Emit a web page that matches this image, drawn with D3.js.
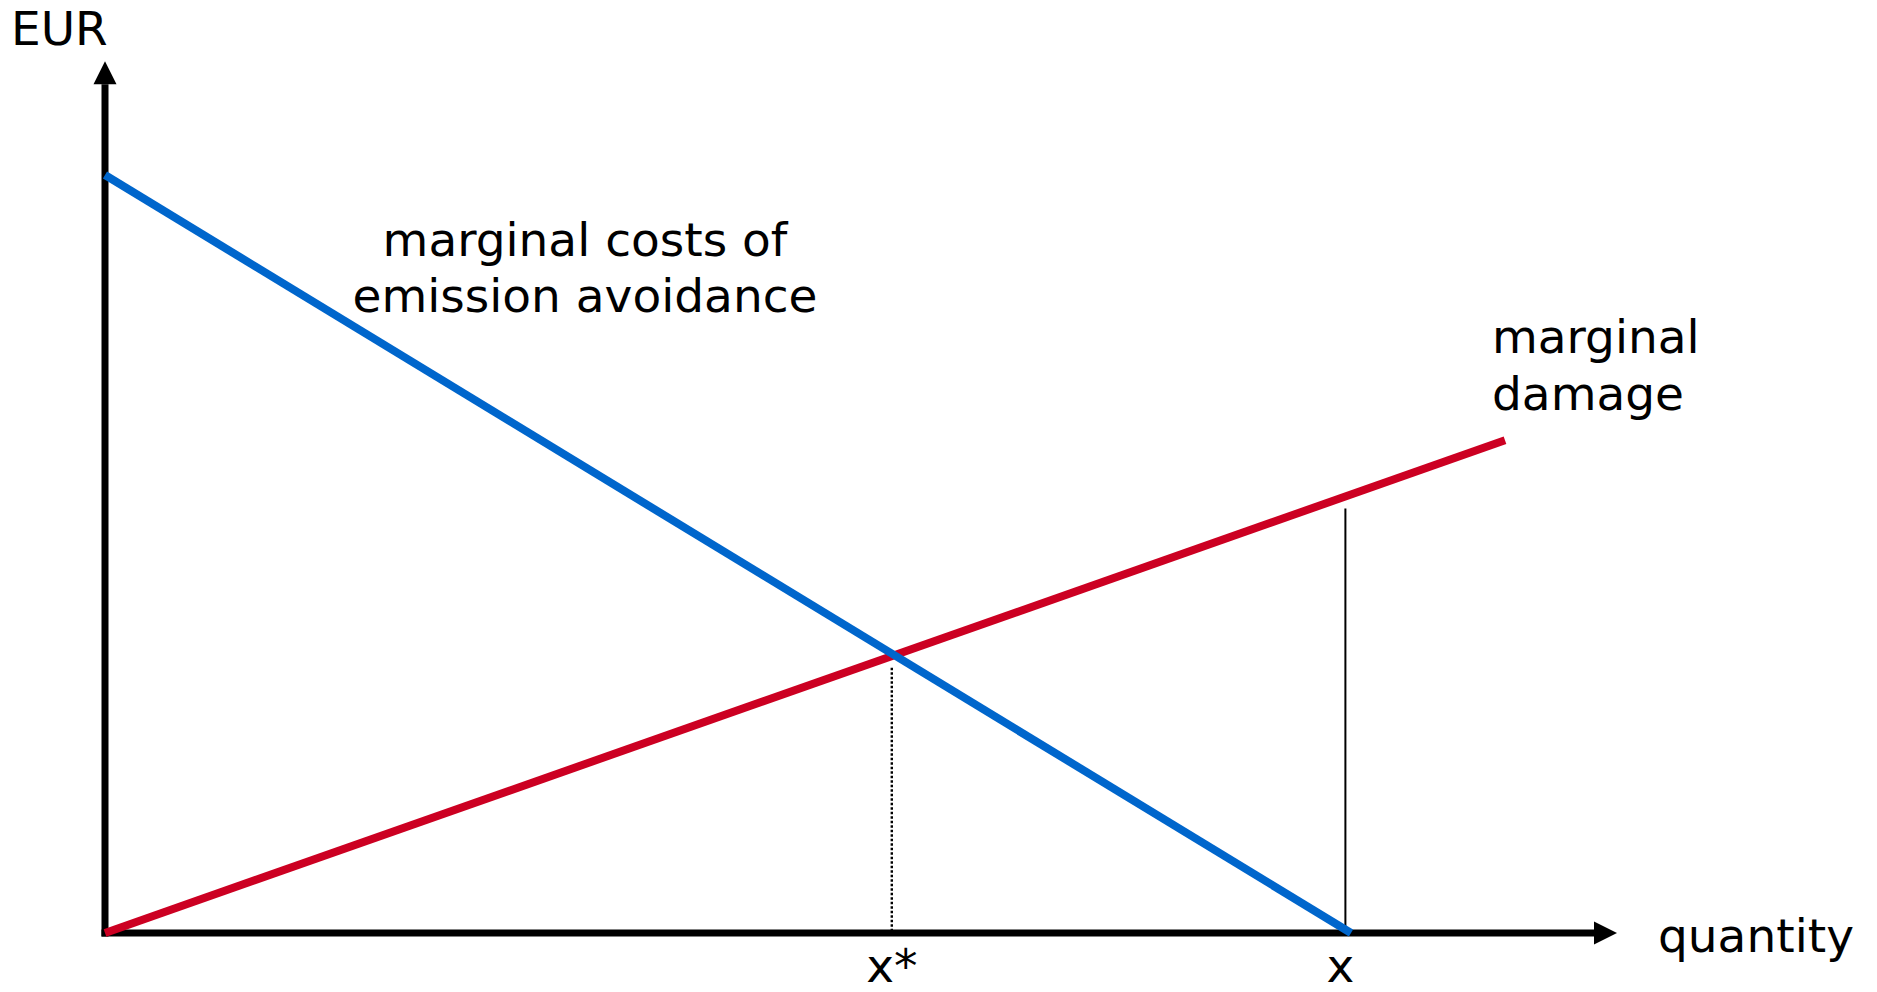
<!DOCTYPE html>
<html>
<head>
<meta charset="utf-8">
<script src="https://cdn.jsdelivr.net/npm/d3@7"></script>
<style>
  html, body { margin: 0; padding: 0; background: #fff; }
  svg { display: block; }
  text { font-family: "DejaVu Sans", sans-serif; fill: #000; }
</style>
</head>
<body>
<svg id="chart" width="1877" height="992"></svg>
<script>
// ---- data (quantity on x, EUR on y, arbitrary units 0..100) ----
const costQuantity = [0, 89];          // marginal costs of emission avoidance
const costValues   = [100, 0];
const damageQuantity = [0, 100];       // marginal damage
const damageValues   = [0, 65];
const xStar = 56.2;                    // optimum quantity
const xStarTop = 35;
const xCurrent = 88.6;                 // current quantity x
const xCurrentTop = 56;
const tickLabels = ["x*", "x"];
const tickValues = [xStar, xCurrent];
const axisMax = { x: 108, y: 115 };

// ---- layout ----
const svg = d3.select("#chart");
const x = d3.scaleLinear().domain([0, 100]).range([105, 1505]);
const y = d3.scaleLinear().domain([0, 100]).range([933, 175]);

const blue = "#0066cc", red = "#cc0022";
const fontSize = 47;

// axes
const arrowLen = 23, arrowHalf = 11.5;
const x0 = x(0), y0 = y(0);
const xTip = x(axisMax.x), yTip = y(axisMax.y);

svg.append("line")
  .attr("x1", x0).attr("y1", y0 + 3.5)
  .attr("x2", x0).attr("y2", yTip + arrowLen)
  .attr("stroke", "#000").attr("stroke-width", 7);
svg.append("path")
  .attr("d", `M${x0},${yTip} L${x0 - arrowHalf},${yTip + arrowLen} L${x0 + arrowHalf},${yTip + arrowLen} Z`)
  .attr("fill", "#000");

svg.append("line")
  .attr("x1", x0 - 3.5).attr("y1", y0)
  .attr("x2", xTip - arrowLen).attr("y2", y0)
  .attr("stroke", "#000").attr("stroke-width", 7);
svg.append("path")
  .attr("d", `M${xTip},${y0} L${xTip - arrowLen},${y0 - arrowHalf} L${xTip - arrowLen},${y0 + arrowHalf} Z`)
  .attr("fill", "#000");

// guide lines
svg.append("line")
  .attr("x1", x(xStar)).attr("x2", x(xStar))
  .attr("y1", y(xStarTop)).attr("y2", y0)
  .attr("stroke", "#000").attr("stroke-width", 2.4)
  .attr("stroke-dasharray", "2.5,2");
svg.append("line")
  .attr("x1", x(xCurrent)).attr("x2", x(xCurrent))
  .attr("y1", y(xCurrentTop)).attr("y2", y0)
  .attr("stroke", "#000").attr("stroke-width", 2);

// curves
const lineGen = d3.line().x(d => x(d[0])).y(d => y(d[1]));
svg.append("path")
  .datum(d3.zip(damageQuantity, damageValues))
  .attr("d", lineGen)
  .attr("fill", "none").attr("stroke", red).attr("stroke-width", 8);
svg.append("path")
  .datum(d3.zip(costQuantity, costValues))
  .attr("d", lineGen)
  .attr("fill", "none").attr("stroke", blue).attr("stroke-width", 8);

// tick labels
svg.selectAll("text.tick")
  .data(tickLabels)
  .enter().append("text")
  .attr("class", "tick")
  .attr("x", (d, i) => x(tickValues[i]) + (i === 1 ? -5 : 0))
  .attr("y", 982)
  .attr("text-anchor", "middle")
  .attr("font-size", fontSize)
  .text(d => d);

// axis titles
svg.append("text").attr("x", 11).attr("y", 45).attr("font-size", fontSize).text("EUR");
svg.append("text").attr("x", 1658).attr("y", 952).attr("font-size", fontSize).text("quantity");

// curve labels
const costLabel = svg.append("text").attr("font-size", fontSize).attr("text-anchor", "middle");
costLabel.append("tspan").attr("x", 585).attr("y", 256).text("marginal costs of");
costLabel.append("tspan").attr("x", 585).attr("y", 312).text("emission avoidance");

const dmgLabel = svg.append("text").attr("font-size", fontSize);
dmgLabel.append("tspan").attr("x", 1492).attr("y", 353).text("marginal");
dmgLabel.append("tspan").attr("x", 1492).attr("y", 410).text("damage");
</script>
</body>
</html>
